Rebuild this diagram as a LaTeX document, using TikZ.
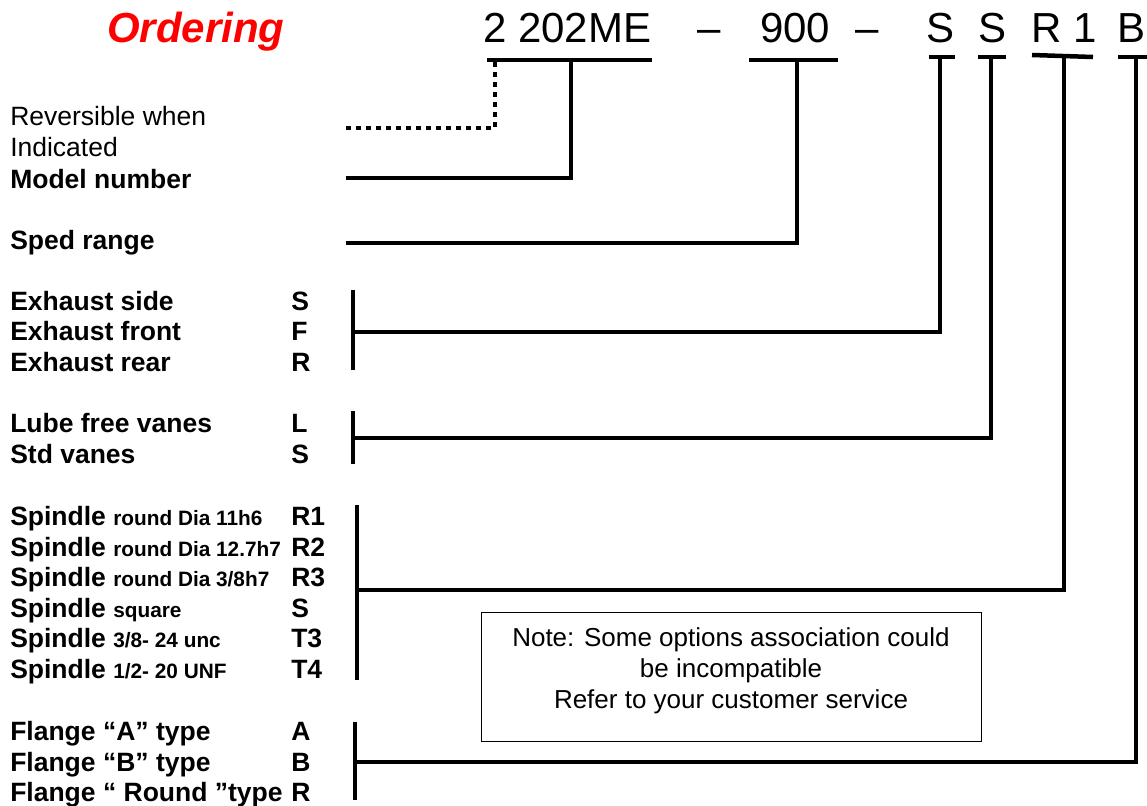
\documentclass[tikz,border=0pt]{standalone}
\usepackage{fontspec}
\setmainfont{Liberation Sans}
\usetikzlibrary{positioning}

\begin{document}
\begin{tikzpicture}[x=1pt,y=-1pt,line width=4.5pt]
  \tikzstyle{lbl}=[anchor=base west,inner sep=0pt,font=\fontsize{26.5}{30}\selectfont\bfseries]
  \tikzstyle{plain}=[anchor=base west,inner sep=0pt,font=\fontsize{26.5}{30}\selectfont]
  \tikzstyle{code}=[anchor=base west,inner sep=0pt,font=\fontsize{42}{46}\selectfont]
  \tikzstyle{dots}=[line width=4pt,dash pattern=on 5pt off 5pt]
  \newcommand{\smallbf}[1]{{\fontsize{20.8}{24}\selectfont #1}}

  \useasboundingbox (0,0) rectangle (1147,805);

  % title and ordering code
  \node[anchor=base west,inner sep=0pt,text=red,font=\fontsize{42}{46}\selectfont\bfseries\itshape] (title) at (105,43) {Ordering};
  \node[code] (model) at (481,43) {2 202ME};
  \node[code] (dasha) at (695,43) {--};
  \node[code] (speed) at (758,43) {900};
  \node[code] (dashb) at (853,43) {--};
  \node[code] (exh)   at (924,43) {S};
  \node[code] (vane)  at (976,43) {S};
  \node[code] (spin)  at (1029,43) {R 1};
  \node[code] (fla)   at (1115,43) {B};

  % left labels
  \node[plain] (rev)   at (8,126) {Reversible when};
  \node[plain] (ind)   at (8,157) {Indicated};
  \node[lbl]   (mnum)  at (8,188) {Model number};
  \node[lbl]   (sped)  at (8,249) {Sped range};

  \node[lbl] (exs) at (8,310) {Exhaust side};
  \node[lbl] (exf) at (8,340) {Exhaust front};
  \node[lbl] (exr) at (8,371) {Exhaust rear};
  \node[lbl] (exsK) at (289,310) {S};
  \node[lbl] (exfK) at (289,340) {F};
  \node[lbl] (exrK) at (289,371) {R};

  \node[lbl] (lub) at (8,432) {Lube free vanes};
  \node[lbl] (std) at (8,463) {Std vanes};
  \node[lbl] (lubK) at (289,432) {L};
  \node[lbl] (stdK) at (289,463) {S};

  \node[lbl] (sp1) at (8,525) {Spindle \smallbf{round Dia 11h6}};
  \node[lbl] (sp2) at (8,556) {Spindle \smallbf{round Dia 12.7h7}};
  \node[lbl] (sp3) at (8,586) {Spindle \smallbf{round Dia 3/8h7}};
  \node[lbl] (sp4) at (8,617) {Spindle \smallbf{square}};
  \node[lbl] (sp5) at (8,647) {Spindle \smallbf{3/8- 24 unc}};
  \node[lbl] (sp6) at (8,678) {Spindle \smallbf{1/2- 20 UNF}};
  \node[lbl] (sp1K) at (289,525) {R1};
  \node[lbl] (sp2K) at (289,556) {R2};
  \node[lbl] (sp3K) at (289,586) {R3};
  \node[lbl] (sp4K) at (289,617) {S};
  \node[lbl] (sp5K) at (289,647) {T3};
  \node[lbl] (sp6K) at (289,678) {T4};

  \node[lbl] (fa) at (8,740) {Flange “A” type};
  \node[lbl] (fb) at (8,771) {Flange “B” type};
  \node[lbl] (fr) at (8,801) {Flange “ Round ”type};
  \node[lbl] (faK) at (289,740) {A};
  \node[lbl] (fbK) at (289,771) {B};
  \node[lbl] (frK) at (289,801) {R};

  % note
  \node[draw,line width=1pt,minimum width=500pt,minimum height=129pt] (note) at (731,676.5) {};
  \node[align=center,font=\fontsize{26}{31}\selectfont] (notetxt) at (731,671)
    {Note: Some options association could\\be incompatible\\Refer to your customer service};

  % bars under the code
  \draw (487,60) -- (652,60);
  \draw (749,60) -- (838,60);
  \draw (929,57) -- (955,57);
  \draw (978,57) -- (1006,57);
  \draw (1032,55) -- (1093,57);
  \draw (1118,57) -- (1147,57);

  % brackets
  \draw (353,290) -- (353,370);
  \draw (353,411) -- (353,464);
  \draw (357,505) -- (357,680);
  \draw (355,722) -- (355,800);

  \coordinate (tRev)  at (495,62);
  \coordinate (tMod)  at (571,60);
  \coordinate (tSpd)  at (797,60);
  \coordinate (tExh)  at (940,57);
  \coordinate (tVan)  at (991,57);
  \coordinate (tSpi)  at (1064,56);
  \coordinate (tFla)  at (1136,57);
  \coordinate (eRev)  at (346,128);
  \coordinate (eMod)  at (346,178);
  \coordinate (eSpd)  at (346,243);
  \coordinate (eExh)  at (355,332);
  \coordinate (eVan)  at (355,438);
  \coordinate (eSpi)  at (359,590);
  \coordinate (eFla)  at (357,762);

  % connectors
  \draw[dots] (tRev) |- (eRev);
  \draw (tMod) |- (eMod);
  \draw (tSpd) |- (eSpd);
  \draw (tExh) |- (eExh);
  \draw (tVan) |- (eVan);
  \draw (tSpi) |- (eSpi);
  \draw (tFla) |- (eFla);
\end{tikzpicture}
\end{document}
